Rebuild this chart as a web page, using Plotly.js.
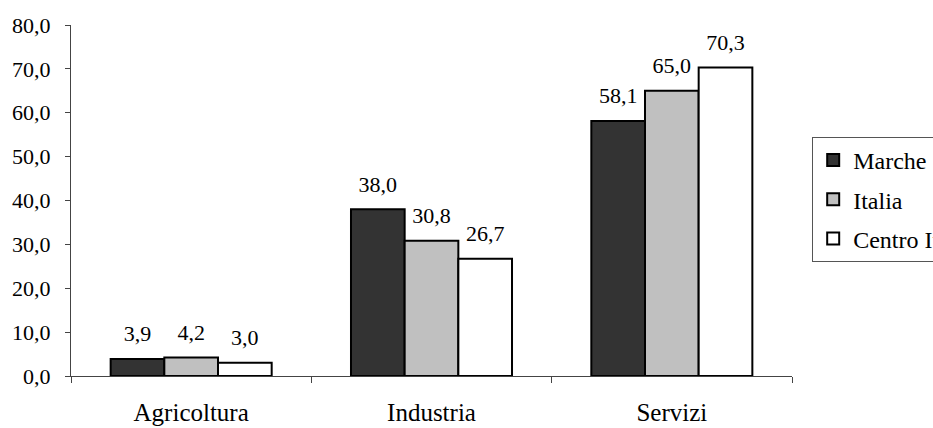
<!DOCTYPE html>
<html>
<head>
<meta charset="utf-8">
<script src="https://cdn.plot.ly/plotly-3.0.1.min.js"></script>
<style>html,body{margin:0;padding:0;background:#fff;}#chart{width:933px;height:428px;}</style>
</head>
<body>
<div id="chart"></div>
<script>
const categories = ["Agricoltura", "Industria", "Servizi"];
const seriesNames = ["Marche", "Italia", "Centro Italia"];
const marche = [3.9, 38.0, 58.1];
const italia = [4.2, 30.8, 65.0];
const centro = [3.0, 26.7, 70.3];
const seriesValues = [marche, italia, centro];
const fillColors = ["#333333", "#C0C0C0", "#FFFFFF"];

const FAMILY = "Liberation Serif, Times New Roman, serif";
const numFont = {family: FAMILY, size: 22, color: "#000"};
const labelFont = {family: FAMILY, size: 25, color: "#000"};
const legendFont = {family: FAMILY, size: 24, color: "#000"};

const barTraces = seriesValues.map((vals, i) => ({
  type: "bar",
  name: seriesNames[i],
  x: categories,
  y: vals,
  legendgroup: "g" + i,
  marker: {color: fillColors[i], line: {color: "#000", width: 2}},
  hoverinfo: "skip"
}));

const labelTraces = seriesValues.map((vals, i) => ({
  type: "scatter",
  mode: "markers+text",
  x: categories,
  y: vals,
  showlegend: false,
  marker: {size: 18, color: "rgba(0,0,0,0)"},
  texttemplate: "%{y:.1f}",
  textposition: "top center",
  textfont: numFont,
  cliponaxis: false,
  hoverinfo: "skip"
}));

const layout = {
  width: 933, height: 428,
  margin: {l: 71, r: 141, t: 25, b: 52, autoexpand: false},
  paper_bgcolor: "#fff", plot_bgcolor: "#fff",
  font: numFont,
  separators: ",.",
  barmode: "group",
  bargap: 0.33,
  bargroupgap: 0,
  scattermode: "group",
  scattergap: 0.33,
  showlegend: true,
  legend: {
    x: 1.028, xanchor: "left", y: 0.681, yanchor: "top",
    bordercolor: "#555", borderwidth: 1, bgcolor: "#fff",
    font: legendFont,
    tracegroupgap: 5,
    itemwidth: 30
  },
  xaxis: {
    type: "category",
    showline: true, linecolor: "#444", linewidth: 1,
    ticks: "outside", tickson: "boundaries", ticklen: 6, tickcolor: "#444",
    ticklabelstandoff: 14,
    showgrid: false, zeroline: false,
    tickfont: labelFont, fixedrange: true
  },
  yaxis: {
    range: [0, 80], dtick: 10, tick0: 0, tickformat: ".1f",
    showline: true, linecolor: "#444", linewidth: 1,
    ticks: "outside", ticklen: 5, tickcolor: "#444",
    ticklabelstandoff: 10,
    showgrid: false, zeroline: false,
    tickfont: numFont, fixedrange: true
  }
};

Plotly.newPlot("chart", barTraces.concat(labelTraces), layout, {displayModeBar: false, staticPlot: true});
</script>
</body>
</html>
